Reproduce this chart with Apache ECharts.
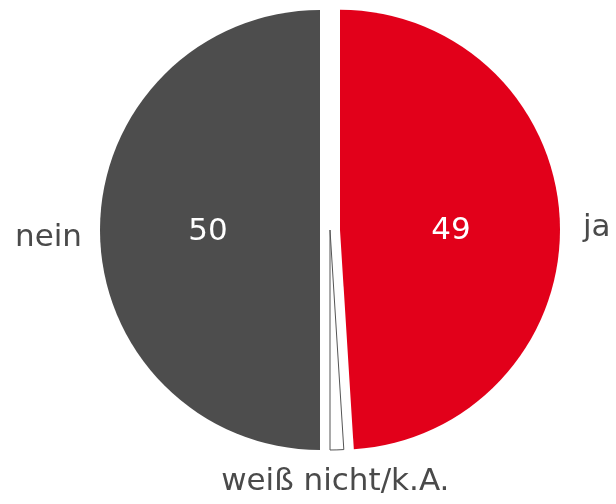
<!DOCTYPE html>
<html>
<head>
<meta charset="utf-8">
<script src="https://cdn.jsdelivr.net/npm/echarts@6/dist/echarts.min.js"></script>
<style>
  html, body { margin: 0; padding: 0; background: #fff; }
  #chart { width: 616px; height: 504px; }
</style>
</head>
<body>
<div id="chart"></div>
<script>
// Antworten, im Uhrzeigersinn ab 12 Uhr
const categories = ['ja', 'weiß nicht/k.A.', 'nein'];
const values = [49, 1, 50];
const colors = ['#e2001a', '#ffffff', '#4d4d4d'];
const exploded = [true, false, true];
const showValue = [true, false, true];

const myChart = echarts.init(document.getElementById('chart'));

const baseData = categories.map((name, i) => ({
  name: name,
  value: values[i],
  selected: exploded[i]
}));

const common = {
  type: 'pie',
  center: [330, 230],
  radius: 220,
  startAngle: 90,
  clockwise: true,
  selectedMode: 'multiple',
  selectedOffset: 10,
  animation: false,
  silent: true,
  emphasis: { disabled: true }
};

// kleine Nachjustierung der Beschriftungen
const innerShift = [[-2, 5], [0, 0], [1, 2]];
const outerShift = [[6, 6], [-7, 0], [-1, 8]];

let option = {
  backgroundColor: '#fff',
  textStyle: { fontFamily: 'DejaVu Sans' },
  series: [
    Object.assign({}, common, {
      name: 'werte',
      data: baseData.map((d, i) => Object.assign({}, d, {
        itemStyle: {
          color: colors[i],
          borderColor: i === 1 ? '#555' : colors[i],
          borderWidth: i === 1 ? 1 : 0
        },
        label: { show: showValue[i] }
      })),
      label: {
        position: 'inside',
        formatter: '{c}',
        color: '#fff',
        fontSize: 31,
        fontFamily: 'DejaVu Sans'
      },
      labelLine: { show: false },
      labelLayout: function (params) {
        const s = innerShift[params.dataIndex];
        return { dx: s[0], dy: s[1] };
      }
    }),
    Object.assign({}, common, {
      name: 'namen',
      z: 3,
      data: baseData.map(d => Object.assign({}, d, {
        itemStyle: { color: 'rgba(0,0,0,0)', borderWidth: 0 }
      })),
      label: {
        position: 'outside',
        formatter: '{b}',
        color: '#4a4a4a',
        fontSize: 31,
        fontFamily: 'DejaVu Sans'
      },
      labelLine: { show: false, length: 12, length2: 0 },
      labelLayout: function (params) {
        const s = outerShift[params.dataIndex];
        if (params.dataIndex === 1) {
          return { align: 'center', verticalAlign: 'top', y: params.labelRect.y + 20, dx: s[0] };
        }
        return { dx: s[0], dy: s[1] };
      }
    })
  ]
};

myChart.setOption(option);
</script>
</body>
</html>
